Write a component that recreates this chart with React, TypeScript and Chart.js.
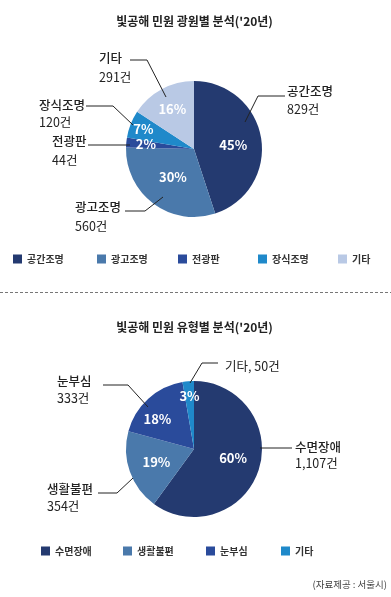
import React, { useEffect, useRef } from "react";
import { Chart, registerables } from "chart.js";

Chart.register(...registerables);

// ---------- data ----------
const sourceTitle = "빛공해 민원 광원별 분석('20년)";
const sourceCategories = ["공간조명", "광고조명", "전광판", "장식조명", "기타"];
const sourceCounts = [829, 560, 44, 120, 291];

const typeTitle = "빛공해 민원 유형별 분석('20년)";
const typeCategories = ["수면장애", "생활불편", "눈부심", "기타"];
const typeCounts = [1107, 354, 333, 50];

const sourceNote = "(자료제공 : 서울시)";

// ---------- styles ----------
const NAVY = "#243a70";
const STEEL = "#4a79ab";
const ROYAL = "#2a4b9b";
const BRIGHT = "#1f89ca";
const LIGHT = "#b9c9e5";

const sourceColors = [NAVY, STEEL, ROYAL, BRIGHT, LIGHT];
const typeColors = [NAVY, STEEL, ROYAL, BRIGHT];

const FONT = '"Noto Sans CJK KR", "Noto Sans", sans-serif';
const W = 391;

// leader-line layout, relative to pie centre (px)
type Leader = { pts: number[][]; tx: number; ty: number[]; single?: boolean };
const sourceLeaders: Leader[] = [
  { pts: [[51, -27], [64, -53], [91, -53]], tx: 93, ty: [-58, -40] },
  { pts: [[-31, 48], [-49, 62], [-69, 62]], tx: -119, ty: [58, 77] },
  { pts: [[-64, -4], [-106, -4]], tx: -142, ty: [-8, 11] },
  { pts: [[-61, -24], [-81, -43], [-108, -43]], tx: -155, ty: [-43.5, -27] },
  { pts: [[-28, -52], [-47, -89], [-64, -89]], tx: -95, ty: [-90.5, -72] },
];
const typeLeaders: Leader[] = [
  { pts: [[66, -1], [98, -1]], tx: 101, ty: [-2, 14] },
  { pts: [[-61, 29], [-77, 44], [-96, 44]], tx: -147, ty: [40, 57] },
  { pts: [[-46, -42], [-66, -64], [-91, -64]], tx: -137, ty: [-68, -51] },
  { pts: [[-4, -66], [8, -86], [24, -86]], tx: 31, ty: [-83], single: true },
];
// percent label placement: radial factor and angle tweak (deg)
const sourcePctPos = [[0.58, 3], [0.52, 0], [0.71, 0], [0.8, 0], [0.67, 0]];
const typePctPos = [[0.59, -5], [0.585, 0], [0.7, -8], [0.78, 0]];

const sourceLegendX = [13, 97, 178, 258, 338];
const typeLegendX = [41, 123, 206, 281];

type Decor = {
  title: string;
  titleY: number;
  labels: string[];
  counts: number[];
  colors: string[];
  leaders: Leader[];
  pctPos: number[][];
  legendX: number[];
  legendY: number;
  dashY?: number;
  note?: { text: string; x: number; y: number };
};

function makeDecor(cfg: Decor) {
  return {
    id: "decor",
    afterDraw(chart: any) {
      const ctx: CanvasRenderingContext2D = chart.ctx;
      const meta = chart.getDatasetMeta(0);
      const arcs = meta.data;
      const cx = arcs[0].x;
      const cy = arcs[0].y;
      const r = arcs[0].outerRadius;
      const total = cfg.counts.reduce((a, b) => a + b, 0);
      ctx.save();
      // title
      ctx.fillStyle = "#222";
      ctx.font = `bold 12px ${FONT}`;
      ctx.textAlign = "center";
      ctx.textBaseline = "middle";
      ctx.fillText(cfg.title, W / 2 - 1, cfg.titleY);

      // percent labels
      ctx.fillStyle = "#fff";
      ctx.font = `bold 13px ${FONT}`;
      arcs.forEach((a: any, i: number) => {
        const mid = (a.startAngle + a.endAngle) / 2 + (cfg.pctPos[i][1] * Math.PI) / 180;
        const d = cfg.pctPos[i][0] * r;
        const pct = Math.round((cfg.counts[i] / total) * 100) + "%";
        ctx.fillText(pct, cx + Math.cos(mid) * d, cy + Math.sin(mid) * d);
      });

      // leaders
      ctx.strokeStyle = "#222";
      ctx.lineWidth = 1;
      cfg.leaders.forEach((L, i) => {
        ctx.beginPath();
        L.pts.forEach((p, j) => {
          const x = cx + p[0];
          const y = cy + p[1];
          if (j === 0) ctx.moveTo(x, y);
          else ctx.lineTo(x, y);
        });
        ctx.stroke();
        ctx.fillStyle = "#222";
        ctx.textAlign = "left";
        const countText = cfg.counts[i].toLocaleString("en-US") + "건";
        if (L.single) {
          ctx.font = `12.5px ${FONT}`;
          ctx.fillText(`${cfg.labels[i]}, ${countText}`, cx + L.tx, cy + L.ty[0]);
        } else {
          ctx.font = `500 12.5px ${FONT}`;
          ctx.fillText(cfg.labels[i], cx + L.tx, cy + L.ty[0]);
          ctx.font = `12.5px ${FONT}`;
          ctx.fillText(countText, cx + L.tx, cy + L.ty[1]);
        }
      });

      // legend
      ctx.font = `bold 10px ${FONT}`;
      cfg.labels.forEach((lab, i) => {
        const x = cfg.legendX[i];
        ctx.fillStyle = cfg.colors[i];
        ctx.fillRect(x, cfg.legendY - 4.5, 9, 9);
        ctx.fillStyle = "#333";
        ctx.fillText(lab, x + 14, cfg.legendY);
      });

      // dashed separator
      if (cfg.dashY !== undefined) {
        ctx.strokeStyle = "#777";
        ctx.setLineDash([3, 2]);
        ctx.beginPath();
        ctx.moveTo(0, cfg.dashY);
        ctx.lineTo(W, cfg.dashY);
        ctx.stroke();
        ctx.setLineDash([]);
      }

      if (cfg.note) {
        ctx.fillStyle = "#444";
        ctx.font = `9.5px ${FONT}`;
        ctx.textAlign = "right";
        ctx.fillText(cfg.note.text, cfg.note.x, cfg.note.y);
      }
      ctx.restore();
    },
  };
}

function PieBlock(props: { height: number; padTop: number; cfg: Decor; labels: string[]; counts: number[]; colors: string[] }) {
  const ref = useRef<HTMLCanvasElement | null>(null);
  useEffect(() => {
    if (!ref.current) return;
    const chart = new Chart(ref.current, {
      type: "pie",
      data: {
        labels: props.labels,
        datasets: [
          {
            data: props.counts,
            backgroundColor: props.colors,
            borderWidth: 0,
            hoverOffset: 0,
          },
        ],
      },
      options: {
        responsive: false,
        animation: false,
        devicePixelRatio: 1,
        events: [],
        layout: {
          padding: { left: 126, right: W - 126 - 136, top: props.padTop, bottom: props.height - props.padTop - 136 },
        },
        plugins: {
          legend: { display: false },
          tooltip: { enabled: false },
          title: { display: false },
        },
      },
      plugins: [makeDecor(props.cfg)],
    });
    return () => chart.destroy();
  }, []);
  return <canvas ref={ref} width={W} height={props.height} style={{ display: "block", width: W, height: props.height }} />;
}

export default function App() {
  const topCfg: Decor = {
    title: sourceTitle,
    titleY: 21,
    labels: sourceCategories,
    counts: sourceCounts,
    colors: sourceColors,
    leaders: sourceLeaders,
    pctPos: sourcePctPos,
    legendX: sourceLegendX,
    legendY: 259,
    dashY: 292.5,
  };
  const bottomCfg: Decor = {
    title: typeTitle,
    titleY: 27,
    labels: typeCategories,
    counts: typeCounts,
    colors: typeColors,
    leaders: typeLeaders,
    pctPos: typePctPos,
    legendX: typeLegendX,
    legendY: 251,
    note: { text: sourceNote, x: 387, y: 284 },
  };
  return (
    <div style={{ position: "absolute", left: 0, top: 0, width: W, height: 597, background: "#fff" }}>
      <PieBlock height={300} padTop={81} cfg={topCfg} labels={sourceCategories} counts={sourceCounts} colors={sourceColors} />
      <PieBlock height={297} padTop={81} cfg={bottomCfg} labels={typeCategories} counts={typeCounts} colors={typeColors} />
    </div>
  );
}
